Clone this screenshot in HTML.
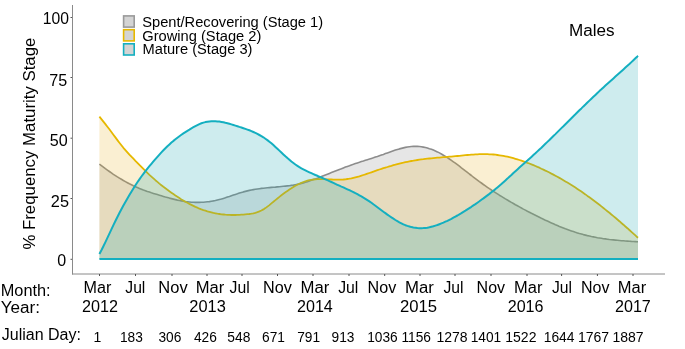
<!DOCTYPE html>
<html><head><meta charset="utf-8"><style>
html,body{margin:0;padding:0;background:#fff;}
body{width:685px;height:349px;position:relative;overflow:hidden;font-family:"Liberation Sans", sans-serif;}
</style></head><body>
<svg width="685" height="349" viewBox="0 0 685 349" style="position:absolute;left:0;top:0;will-change:transform">
<path d="M99.4,164.2 L101.4,165.7 L103.4,167.2 L105.4,168.7 L107.4,170.1 L109.4,171.5 L111.4,172.9 L113.4,174.3 L115.4,175.6 L117.4,176.9 L119.4,178.1 L121.4,179.3 L123.4,180.5 L125.4,181.6 L127.4,182.7 L129.4,183.8 L131.4,184.8 L133.4,185.8 L135.4,186.7 L137.4,187.6 L139.4,188.4 L141.4,189.2 L143.4,190.0 L145.4,190.7 L147.4,191.5 L149.4,192.1 L151.4,192.8 L153.4,193.4 L155.4,194.0 L157.4,194.6 L159.4,195.2 L161.4,195.8 L163.4,196.4 L165.4,197.0 L167.4,197.5 L169.4,198.1 L171.4,198.6 L173.4,199.1 L175.4,199.6 L177.4,200.1 L179.4,200.5 L181.4,200.9 L183.4,201.3 L185.4,201.6 L187.4,201.8 L189.4,202.0 L191.4,202.2 L193.4,202.3 L195.4,202.4 L197.4,202.4 L199.4,202.4 L201.4,202.3 L203.4,202.2 L205.4,202.0 L207.4,201.8 L209.4,201.6 L211.4,201.2 L213.4,200.9 L215.4,200.5 L217.4,200.0 L219.4,199.5 L221.4,199.0 L223.4,198.4 L225.4,197.8 L227.4,197.1 L229.4,196.5 L231.4,195.8 L233.4,195.1 L235.4,194.4 L237.4,193.8 L239.4,193.1 L241.4,192.5 L243.4,191.9 L245.4,191.4 L247.4,190.9 L249.4,190.4 L251.4,190.0 L253.4,189.6 L255.4,189.3 L257.4,189.0 L259.4,188.7 L261.4,188.4 L263.4,188.2 L265.4,188.0 L267.4,187.8 L269.4,187.6 L271.4,187.4 L273.4,187.2 L275.4,187.1 L277.4,186.9 L279.4,186.7 L281.4,186.5 L283.4,186.3 L285.4,186.1 L287.4,185.9 L289.4,185.7 L291.4,185.4 L293.4,185.1 L295.4,184.7 L297.4,184.3 L299.4,183.9 L301.4,183.4 L303.4,182.9 L305.4,182.3 L307.4,181.7 L309.4,181.0 L311.4,180.3 L313.4,179.6 L315.4,178.9 L317.4,178.2 L319.4,177.4 L321.4,176.6 L323.4,175.8 L325.4,175.0 L327.4,174.2 L329.4,173.4 L331.4,172.6 L333.4,171.8 L335.4,171.0 L337.4,170.2 L339.4,169.4 L341.4,168.7 L343.4,167.9 L345.4,167.1 L347.4,166.4 L349.4,165.7 L351.4,164.9 L353.4,164.3 L355.4,163.6 L357.4,162.9 L359.4,162.3 L361.4,161.6 L363.4,161.0 L365.4,160.3 L367.4,159.7 L369.4,159.1 L371.4,158.4 L373.4,157.8 L375.4,157.1 L377.4,156.5 L379.4,155.8 L381.4,155.1 L383.4,154.4 L385.4,153.6 L387.4,152.9 L389.4,152.2 L391.4,151.5 L393.4,150.8 L395.4,150.1 L397.4,149.5 L399.4,148.9 L401.4,148.4 L403.4,147.9 L405.4,147.4 L407.4,147.0 L409.4,146.7 L411.4,146.5 L413.4,146.4 L415.4,146.3 L417.4,146.4 L419.4,146.5 L421.4,146.7 L423.4,147.1 L425.4,147.5 L427.4,148.0 L429.4,148.7 L431.4,149.3 L433.4,150.1 L435.4,151.0 L437.4,151.9 L439.4,152.9 L441.4,154.0 L443.4,155.2 L445.4,156.4 L447.4,157.6 L449.4,159.0 L451.4,160.4 L453.4,161.8 L455.4,163.2 L457.4,164.7 L459.4,166.2 L461.4,167.8 L463.4,169.3 L465.4,170.9 L467.4,172.4 L469.4,174.0 L471.4,175.5 L473.4,177.1 L475.4,178.6 L477.4,180.1 L479.4,181.6 L481.4,183.0 L483.4,184.5 L485.4,185.9 L487.4,187.3 L489.4,188.7 L491.4,190.0 L493.4,191.3 L495.4,192.6 L497.4,193.9 L499.4,195.2 L501.4,196.4 L503.4,197.6 L505.4,198.9 L507.4,200.0 L509.4,201.2 L511.4,202.4 L513.4,203.5 L515.4,204.7 L517.4,205.8 L519.4,206.9 L521.4,208.0 L523.4,209.1 L525.4,210.1 L527.4,211.2 L529.4,212.2 L531.4,213.3 L533.4,214.3 L535.4,215.3 L537.4,216.3 L539.4,217.3 L541.4,218.3 L543.4,219.2 L545.4,220.2 L547.4,221.1 L549.4,222.0 L551.4,222.9 L553.4,223.8 L555.4,224.7 L557.4,225.5 L559.4,226.4 L561.4,227.2 L563.4,228.0 L565.4,228.8 L567.4,229.5 L569.4,230.2 L571.4,230.9 L573.4,231.6 L575.4,232.3 L577.4,232.9 L579.4,233.5 L581.4,234.0 L583.4,234.6 L585.4,235.1 L587.4,235.6 L589.4,236.0 L591.4,236.5 L593.4,236.9 L595.4,237.3 L597.4,237.7 L599.4,238.0 L601.4,238.3 L603.4,238.7 L605.4,238.9 L607.4,239.2 L609.4,239.5 L611.4,239.7 L613.4,239.9 L615.4,240.1 L617.4,240.3 L619.4,240.5 L621.4,240.7 L623.4,240.8 L625.4,241.0 L627.4,241.1 L629.4,241.2 L631.4,241.4 L633.4,241.5 L635.4,241.6 L637.4,241.7 L638.0,241.7 L638.0,259.0 L99.4,259.0 Z" fill="rgb(126,128,130)" fill-opacity="0.197"/>
<path d="M99.4,164.2 L101.4,165.7 L103.4,167.2 L105.4,168.7 L107.4,170.1 L109.4,171.5 L111.4,172.9 L113.4,174.3 L115.4,175.6 L117.4,176.9 L119.4,178.1 L121.4,179.3 L123.4,180.5 L125.4,181.6 L127.4,182.7 L129.4,183.8 L131.4,184.8 L133.4,185.8 L135.4,186.7 L137.4,187.6 L139.4,188.4 L141.4,189.2 L143.4,190.0 L145.4,190.7 L147.4,191.5 L149.4,192.1 L151.4,192.8 L153.4,193.4 L155.4,194.0 L157.4,194.6 L159.4,195.2 L161.4,195.8 L163.4,196.4 L165.4,197.0 L167.4,197.5 L169.4,198.1 L171.4,198.6 L173.4,199.1 L175.4,199.6 L177.4,200.1 L179.4,200.5 L181.4,200.9 L183.4,201.3 L185.4,201.6 L187.4,201.8 L189.4,202.0 L191.4,202.2 L193.4,202.3 L195.4,202.4 L197.4,202.4 L199.4,202.4 L201.4,202.3 L203.4,202.2 L205.4,202.0 L207.4,201.8 L209.4,201.6 L211.4,201.2 L213.4,200.9 L215.4,200.5 L217.4,200.0 L219.4,199.5 L221.4,199.0 L223.4,198.4 L225.4,197.8 L227.4,197.1 L229.4,196.5 L231.4,195.8 L233.4,195.1 L235.4,194.4 L237.4,193.8 L239.4,193.1 L241.4,192.5 L243.4,191.9 L245.4,191.4 L247.4,190.9 L249.4,190.4 L251.4,190.0 L253.4,189.6 L255.4,189.3 L257.4,189.0 L259.4,188.7 L261.4,188.4 L263.4,188.2 L265.4,188.0 L267.4,187.8 L269.4,187.6 L271.4,187.4 L273.4,187.2 L275.4,187.1 L277.4,186.9 L279.4,186.7 L281.4,186.5 L283.4,186.3 L285.4,186.1 L287.4,185.9 L289.4,185.7 L291.4,185.4 L293.4,185.1 L295.4,184.7 L297.4,184.3 L299.4,183.9 L301.4,183.4 L303.4,182.9 L305.4,182.3 L307.4,181.7 L309.4,181.0 L311.4,180.3 L313.4,179.6 L315.4,178.9 L317.4,178.2 L319.4,177.4 L321.4,176.6 L323.4,175.8 L325.4,175.0 L327.4,174.2 L329.4,173.4 L331.4,172.6 L333.4,171.8 L335.4,171.0 L337.4,170.2 L339.4,169.4 L341.4,168.7 L343.4,167.9 L345.4,167.1 L347.4,166.4 L349.4,165.7 L351.4,164.9 L353.4,164.3 L355.4,163.6 L357.4,162.9 L359.4,162.3 L361.4,161.6 L363.4,161.0 L365.4,160.3 L367.4,159.7 L369.4,159.1 L371.4,158.4 L373.4,157.8 L375.4,157.1 L377.4,156.5 L379.4,155.8 L381.4,155.1 L383.4,154.4 L385.4,153.6 L387.4,152.9 L389.4,152.2 L391.4,151.5 L393.4,150.8 L395.4,150.1 L397.4,149.5 L399.4,148.9 L401.4,148.4 L403.4,147.9 L405.4,147.4 L407.4,147.0 L409.4,146.7 L411.4,146.5 L413.4,146.4 L415.4,146.3 L417.4,146.4 L419.4,146.5 L421.4,146.7 L423.4,147.1 L425.4,147.5 L427.4,148.0 L429.4,148.7 L431.4,149.3 L433.4,150.1 L435.4,151.0 L437.4,151.9 L439.4,152.9 L441.4,154.0 L443.4,155.2 L445.4,156.4 L447.4,157.6 L449.4,159.0 L451.4,160.4 L453.4,161.8 L455.4,163.2 L457.4,164.7 L459.4,166.2 L461.4,167.8 L463.4,169.3 L465.4,170.9 L467.4,172.4 L469.4,174.0 L471.4,175.5 L473.4,177.1 L475.4,178.6 L477.4,180.1 L479.4,181.6 L481.4,183.0 L483.4,184.5 L485.4,185.9 L487.4,187.3 L489.4,188.7 L491.4,190.0 L493.4,191.3 L495.4,192.6 L497.4,193.9 L499.4,195.2 L501.4,196.4 L503.4,197.6 L505.4,198.9 L507.4,200.0 L509.4,201.2 L511.4,202.4 L513.4,203.5 L515.4,204.7 L517.4,205.8 L519.4,206.9 L521.4,208.0 L523.4,209.1 L525.4,210.1 L527.4,211.2 L529.4,212.2 L531.4,213.3 L533.4,214.3 L535.4,215.3 L537.4,216.3 L539.4,217.3 L541.4,218.3 L543.4,219.2 L545.4,220.2 L547.4,221.1 L549.4,222.0 L551.4,222.9 L553.4,223.8 L555.4,224.7 L557.4,225.5 L559.4,226.4 L561.4,227.2 L563.4,228.0 L565.4,228.8 L567.4,229.5 L569.4,230.2 L571.4,230.9 L573.4,231.6 L575.4,232.3 L577.4,232.9 L579.4,233.5 L581.4,234.0 L583.4,234.6 L585.4,235.1 L587.4,235.6 L589.4,236.0 L591.4,236.5 L593.4,236.9 L595.4,237.3 L597.4,237.7 L599.4,238.0 L601.4,238.3 L603.4,238.7 L605.4,238.9 L607.4,239.2 L609.4,239.5 L611.4,239.7 L613.4,239.9 L615.4,240.1 L617.4,240.3 L619.4,240.5 L621.4,240.7 L623.4,240.8 L625.4,241.0 L627.4,241.1 L629.4,241.2 L631.4,241.4 L633.4,241.5 L635.4,241.6 L637.4,241.7 L638.0,241.7" fill="none" stroke="#8c8c8c" stroke-width="1.6" stroke-linejoin="round"/>
<path d="M99.4,116.7 L101.4,119.1 L103.4,121.6 L105.4,124.1 L107.4,126.7 L109.4,129.3 L111.4,132.0 L113.4,134.7 L115.4,137.4 L117.4,140.1 L119.4,142.7 L121.4,145.3 L123.4,147.8 L125.4,150.1 L127.4,152.4 L129.4,154.6 L131.4,156.7 L133.4,158.7 L135.4,160.8 L137.4,162.8 L139.4,164.9 L141.4,166.9 L143.4,168.9 L145.4,170.9 L147.4,172.9 L149.4,174.8 L151.4,176.6 L153.4,178.4 L155.4,180.2 L157.4,181.9 L159.4,183.6 L161.4,185.2 L163.4,186.8 L165.4,188.3 L167.4,189.8 L169.4,191.3 L171.4,192.7 L173.4,194.1 L175.4,195.5 L177.4,196.8 L179.4,198.1 L181.4,199.4 L183.4,200.6 L185.4,201.7 L187.4,202.8 L189.4,203.9 L191.4,204.9 L193.4,205.9 L195.4,206.9 L197.4,207.7 L199.4,208.6 L201.4,209.4 L203.4,210.1 L205.4,210.7 L207.4,211.4 L209.4,211.9 L211.4,212.4 L213.4,212.9 L215.4,213.3 L217.4,213.7 L219.4,214.0 L221.4,214.3 L223.4,214.5 L225.4,214.7 L227.4,214.8 L229.4,214.9 L231.4,215.0 L233.4,215.0 L235.4,215.0 L237.4,214.9 L239.4,214.9 L241.4,214.7 L243.4,214.6 L245.4,214.4 L247.4,214.2 L249.4,214.0 L251.4,213.7 L253.4,213.3 L255.4,212.8 L257.4,212.2 L259.4,211.4 L261.4,210.5 L263.4,209.4 L265.4,208.1 L267.4,206.6 L269.4,205.1 L271.4,203.4 L273.4,201.8 L275.4,200.1 L277.4,198.5 L279.4,196.9 L281.4,195.3 L283.4,193.8 L285.4,192.3 L287.4,190.9 L289.4,189.5 L291.4,188.2 L293.4,186.9 L295.4,185.8 L297.4,184.7 L299.4,183.7 L301.4,182.8 L303.4,182.0 L305.4,181.3 L307.4,180.7 L309.4,180.2 L311.4,179.8 L313.4,179.5 L315.4,179.3 L317.4,179.2 L319.4,179.2 L321.4,179.1 L323.4,179.2 L325.4,179.2 L327.4,179.3 L329.4,179.4 L331.4,179.5 L333.4,179.6 L335.4,179.6 L337.4,179.7 L339.4,179.7 L341.4,179.6 L343.4,179.5 L345.4,179.3 L347.4,179.0 L349.4,178.7 L351.4,178.3 L353.4,177.8 L355.4,177.3 L357.4,176.8 L359.4,176.3 L361.4,175.7 L363.4,175.0 L365.4,174.4 L367.4,173.7 L369.4,173.0 L371.4,172.3 L373.4,171.6 L375.4,170.9 L377.4,170.2 L379.4,169.5 L381.4,168.9 L383.4,168.2 L385.4,167.6 L387.4,167.0 L389.4,166.3 L391.4,165.8 L393.4,165.2 L395.4,164.7 L397.4,164.1 L399.4,163.6 L401.4,163.1 L403.4,162.7 L405.4,162.2 L407.4,161.8 L409.4,161.4 L411.4,161.0 L413.4,160.7 L415.4,160.3 L417.4,160.0 L419.4,159.7 L421.4,159.4 L423.4,159.2 L425.4,158.9 L427.4,158.7 L429.4,158.5 L431.4,158.3 L433.4,158.1 L435.4,157.9 L437.4,157.7 L439.4,157.6 L441.4,157.4 L443.4,157.2 L445.4,157.1 L447.4,156.9 L449.4,156.7 L451.4,156.6 L453.4,156.4 L455.4,156.2 L457.4,156.0 L459.4,155.8 L461.4,155.6 L463.4,155.4 L465.4,155.2 L467.4,155.0 L469.4,154.9 L471.4,154.7 L473.4,154.6 L475.4,154.4 L477.4,154.3 L479.4,154.2 L481.4,154.2 L483.4,154.1 L485.4,154.1 L487.4,154.2 L489.4,154.3 L491.4,154.4 L493.4,154.5 L495.4,154.7 L497.4,155.0 L499.4,155.3 L501.4,155.6 L503.4,155.9 L505.4,156.3 L507.4,156.7 L509.4,157.2 L511.4,157.7 L513.4,158.2 L515.4,158.8 L517.4,159.4 L519.4,160.0 L521.4,160.6 L523.4,161.3 L525.4,162.0 L527.4,162.8 L529.4,163.5 L531.4,164.3 L533.4,165.1 L535.4,166.0 L537.4,166.9 L539.4,167.7 L541.4,168.7 L543.4,169.6 L545.4,170.6 L547.4,171.5 L549.4,172.5 L551.4,173.6 L553.4,174.6 L555.4,175.7 L557.4,176.8 L559.4,177.9 L561.4,179.0 L563.4,180.2 L565.4,181.4 L567.4,182.6 L569.4,183.8 L571.4,185.0 L573.4,186.3 L575.4,187.6 L577.4,188.9 L579.4,190.3 L581.4,191.6 L583.4,193.0 L585.4,194.4 L587.4,195.9 L589.4,197.3 L591.4,198.8 L593.4,200.3 L595.4,201.8 L597.4,203.3 L599.4,204.8 L601.4,206.4 L603.4,208.0 L605.4,209.6 L607.4,211.2 L609.4,212.8 L611.4,214.5 L613.4,216.1 L615.4,217.8 L617.4,219.5 L619.4,221.2 L621.4,223.0 L623.4,224.7 L625.4,226.5 L627.4,228.2 L629.4,230.0 L631.4,231.8 L633.4,233.6 L635.4,235.4 L637.4,237.3 L638.0,237.8 L638.0,259.0 L99.4,259.0 Z" fill="rgb(231,172,25)" fill-opacity="0.198"/>
<path d="M99.4,116.7 L101.4,119.1 L103.4,121.6 L105.4,124.1 L107.4,126.7 L109.4,129.3 L111.4,132.0 L113.4,134.7 L115.4,137.4 L117.4,140.1 L119.4,142.7 L121.4,145.3 L123.4,147.8 L125.4,150.1 L127.4,152.4 L129.4,154.6 L131.4,156.7 L133.4,158.7 L135.4,160.8 L137.4,162.8 L139.4,164.9 L141.4,166.9 L143.4,168.9 L145.4,170.9 L147.4,172.9 L149.4,174.8 L151.4,176.6 L153.4,178.4 L155.4,180.2 L157.4,181.9 L159.4,183.6 L161.4,185.2 L163.4,186.8 L165.4,188.3 L167.4,189.8 L169.4,191.3 L171.4,192.7 L173.4,194.1 L175.4,195.5 L177.4,196.8 L179.4,198.1 L181.4,199.4 L183.4,200.6 L185.4,201.7 L187.4,202.8 L189.4,203.9 L191.4,204.9 L193.4,205.9 L195.4,206.9 L197.4,207.7 L199.4,208.6 L201.4,209.4 L203.4,210.1 L205.4,210.7 L207.4,211.4 L209.4,211.9 L211.4,212.4 L213.4,212.9 L215.4,213.3 L217.4,213.7 L219.4,214.0 L221.4,214.3 L223.4,214.5 L225.4,214.7 L227.4,214.8 L229.4,214.9 L231.4,215.0 L233.4,215.0 L235.4,215.0 L237.4,214.9 L239.4,214.9 L241.4,214.7 L243.4,214.6 L245.4,214.4 L247.4,214.2 L249.4,214.0 L251.4,213.7 L253.4,213.3 L255.4,212.8 L257.4,212.2 L259.4,211.4 L261.4,210.5 L263.4,209.4 L265.4,208.1 L267.4,206.6 L269.4,205.1 L271.4,203.4 L273.4,201.8 L275.4,200.1 L277.4,198.5 L279.4,196.9 L281.4,195.3 L283.4,193.8 L285.4,192.3 L287.4,190.9 L289.4,189.5 L291.4,188.2 L293.4,186.9 L295.4,185.8 L297.4,184.7 L299.4,183.7 L301.4,182.8 L303.4,182.0 L305.4,181.3 L307.4,180.7 L309.4,180.2 L311.4,179.8 L313.4,179.5 L315.4,179.3 L317.4,179.2 L319.4,179.2 L321.4,179.1 L323.4,179.2 L325.4,179.2 L327.4,179.3 L329.4,179.4 L331.4,179.5 L333.4,179.6 L335.4,179.6 L337.4,179.7 L339.4,179.7 L341.4,179.6 L343.4,179.5 L345.4,179.3 L347.4,179.0 L349.4,178.7 L351.4,178.3 L353.4,177.8 L355.4,177.3 L357.4,176.8 L359.4,176.3 L361.4,175.7 L363.4,175.0 L365.4,174.4 L367.4,173.7 L369.4,173.0 L371.4,172.3 L373.4,171.6 L375.4,170.9 L377.4,170.2 L379.4,169.5 L381.4,168.9 L383.4,168.2 L385.4,167.6 L387.4,167.0 L389.4,166.3 L391.4,165.8 L393.4,165.2 L395.4,164.7 L397.4,164.1 L399.4,163.6 L401.4,163.1 L403.4,162.7 L405.4,162.2 L407.4,161.8 L409.4,161.4 L411.4,161.0 L413.4,160.7 L415.4,160.3 L417.4,160.0 L419.4,159.7 L421.4,159.4 L423.4,159.2 L425.4,158.9 L427.4,158.7 L429.4,158.5 L431.4,158.3 L433.4,158.1 L435.4,157.9 L437.4,157.7 L439.4,157.6 L441.4,157.4 L443.4,157.2 L445.4,157.1 L447.4,156.9 L449.4,156.7 L451.4,156.6 L453.4,156.4 L455.4,156.2 L457.4,156.0 L459.4,155.8 L461.4,155.6 L463.4,155.4 L465.4,155.2 L467.4,155.0 L469.4,154.9 L471.4,154.7 L473.4,154.6 L475.4,154.4 L477.4,154.3 L479.4,154.2 L481.4,154.2 L483.4,154.1 L485.4,154.1 L487.4,154.2 L489.4,154.3 L491.4,154.4 L493.4,154.5 L495.4,154.7 L497.4,155.0 L499.4,155.3 L501.4,155.6 L503.4,155.9 L505.4,156.3 L507.4,156.7 L509.4,157.2 L511.4,157.7 L513.4,158.2 L515.4,158.8 L517.4,159.4 L519.4,160.0 L521.4,160.6 L523.4,161.3 L525.4,162.0 L527.4,162.8 L529.4,163.5 L531.4,164.3 L533.4,165.1 L535.4,166.0 L537.4,166.9 L539.4,167.7 L541.4,168.7 L543.4,169.6 L545.4,170.6 L547.4,171.5 L549.4,172.5 L551.4,173.6 L553.4,174.6 L555.4,175.7 L557.4,176.8 L559.4,177.9 L561.4,179.0 L563.4,180.2 L565.4,181.4 L567.4,182.6 L569.4,183.8 L571.4,185.0 L573.4,186.3 L575.4,187.6 L577.4,188.9 L579.4,190.3 L581.4,191.6 L583.4,193.0 L585.4,194.4 L587.4,195.9 L589.4,197.3 L591.4,198.8 L593.4,200.3 L595.4,201.8 L597.4,203.3 L599.4,204.8 L601.4,206.4 L603.4,208.0 L605.4,209.6 L607.4,211.2 L609.4,212.8 L611.4,214.5 L613.4,216.1 L615.4,217.8 L617.4,219.5 L619.4,221.2 L621.4,223.0 L623.4,224.7 L625.4,226.5 L627.4,228.2 L629.4,230.0 L631.4,231.8 L633.4,233.6 L635.4,235.4 L637.4,237.3 L638.0,237.8" fill="none" stroke="#e6b800" stroke-width="1.8" stroke-linejoin="round"/>
<path d="M99.4,254.0 L101.4,250.3 L103.4,246.3 L105.4,242.1 L107.4,237.9 L109.4,233.6 L111.4,229.3 L113.4,225.1 L115.4,221.0 L117.4,217.0 L119.4,213.0 L121.4,209.2 L123.4,205.5 L125.4,201.9 L127.4,198.4 L129.4,195.0 L131.4,191.7 L133.4,188.5 L135.4,185.3 L137.4,182.3 L139.4,179.4 L141.4,176.5 L143.4,173.8 L145.4,171.2 L147.4,168.6 L149.4,166.2 L151.4,163.8 L153.4,161.4 L155.4,159.1 L157.4,156.8 L159.4,154.6 L161.4,152.4 L163.4,150.3 L165.4,148.2 L167.4,146.2 L169.4,144.4 L171.4,142.6 L173.4,140.9 L175.4,139.3 L177.4,137.7 L179.4,136.2 L181.4,134.8 L183.4,133.4 L185.4,132.1 L187.4,130.8 L189.4,129.6 L191.4,128.3 L193.4,127.2 L195.4,126.1 L197.4,125.1 L199.4,124.1 L201.4,123.3 L203.4,122.6 L205.4,122.1 L207.4,121.7 L209.4,121.4 L211.4,121.3 L213.4,121.2 L215.4,121.3 L217.4,121.4 L219.4,121.6 L221.4,121.9 L223.4,122.3 L225.4,122.8 L227.4,123.2 L229.4,123.8 L231.4,124.4 L233.4,125.0 L235.4,125.6 L237.4,126.2 L239.4,126.9 L241.4,127.5 L243.4,128.2 L245.4,128.9 L247.4,129.6 L249.4,130.3 L251.4,131.1 L253.4,132.0 L255.4,132.9 L257.4,133.9 L259.4,135.0 L261.4,136.1 L263.4,137.3 L265.4,138.7 L267.4,140.1 L269.4,141.7 L271.4,143.3 L273.4,145.1 L275.4,146.9 L277.4,148.7 L279.4,150.6 L281.4,152.5 L283.4,154.4 L285.4,156.3 L287.4,158.1 L289.4,159.8 L291.4,161.5 L293.4,163.0 L295.4,164.5 L297.4,165.8 L299.4,167.1 L301.4,168.3 L303.4,169.4 L305.4,170.4 L307.4,171.4 L309.4,172.3 L311.4,173.2 L313.4,174.1 L315.4,175.0 L317.4,175.8 L319.4,176.7 L321.4,177.5 L323.4,178.4 L325.4,179.3 L327.4,180.2 L329.4,181.1 L331.4,182.0 L333.4,182.9 L335.4,183.9 L337.4,184.8 L339.4,185.7 L341.4,186.6 L343.4,187.4 L345.4,188.4 L347.4,189.3 L349.4,190.2 L351.4,191.2 L353.4,192.1 L355.4,193.2 L357.4,194.2 L359.4,195.3 L361.4,196.4 L363.4,197.6 L365.4,198.8 L367.4,200.1 L369.4,201.4 L371.4,202.8 L373.4,204.3 L375.4,205.7 L377.4,207.2 L379.4,208.7 L381.4,210.2 L383.4,211.7 L385.4,213.1 L387.4,214.6 L389.4,216.0 L391.4,217.4 L393.4,218.7 L395.4,220.0 L397.4,221.2 L399.4,222.3 L401.4,223.3 L403.4,224.3 L405.4,225.2 L407.4,225.9 L409.4,226.5 L411.4,227.1 L413.4,227.5 L415.4,227.8 L417.4,228.1 L419.4,228.2 L421.4,228.2 L423.4,228.1 L425.4,227.9 L427.4,227.7 L429.4,227.3 L431.4,226.8 L433.4,226.3 L435.4,225.6 L437.4,225.0 L439.4,224.2 L441.4,223.4 L443.4,222.6 L445.4,221.7 L447.4,220.8 L449.4,219.8 L451.4,218.8 L453.4,217.7 L455.4,216.6 L457.4,215.5 L459.4,214.3 L461.4,213.2 L463.4,211.9 L465.4,210.7 L467.4,209.4 L469.4,208.1 L471.4,206.8 L473.4,205.4 L475.4,204.1 L477.4,202.7 L479.4,201.3 L481.4,199.8 L483.4,198.4 L485.4,196.9 L487.4,195.4 L489.4,193.9 L491.4,192.3 L493.4,190.7 L495.4,189.1 L497.4,187.4 L499.4,185.7 L501.4,184.0 L503.4,182.2 L505.4,180.4 L507.4,178.6 L509.4,176.7 L511.4,174.9 L513.4,173.0 L515.4,171.2 L517.4,169.4 L519.4,167.6 L521.4,165.8 L523.4,164.0 L525.4,162.2 L527.4,160.5 L529.4,158.7 L531.4,156.9 L533.4,155.1 L535.4,153.3 L537.4,151.4 L539.4,149.5 L541.4,147.7 L543.4,145.7 L545.4,143.8 L547.4,141.9 L549.4,140.0 L551.4,138.0 L553.4,136.0 L555.4,134.1 L557.4,132.1 L559.4,130.1 L561.4,128.1 L563.4,126.2 L565.4,124.2 L567.4,122.2 L569.4,120.2 L571.4,118.2 L573.4,116.2 L575.4,114.3 L577.4,112.3 L579.4,110.3 L581.4,108.4 L583.4,106.4 L585.4,104.5 L587.4,102.5 L589.4,100.6 L591.4,98.7 L593.4,96.8 L595.4,94.9 L597.4,93.0 L599.4,91.1 L601.4,89.3 L603.4,87.4 L605.4,85.6 L607.4,83.8 L609.4,82.0 L611.4,80.2 L613.4,78.4 L615.4,76.6 L617.4,74.8 L619.4,73.0 L621.4,71.2 L623.4,69.4 L625.4,67.6 L627.4,65.8 L629.4,64.0 L631.4,62.1 L633.4,60.2 L635.4,58.3 L637.4,56.4 L638.0,55.8 L638.0,259.0 L99.4,259.0 Z" fill="rgb(34,168,179)" fill-opacity="0.219"/>
<path d="M99.4,254.0 L101.4,250.3 L103.4,246.3 L105.4,242.1 L107.4,237.9 L109.4,233.6 L111.4,229.3 L113.4,225.1 L115.4,221.0 L117.4,217.0 L119.4,213.0 L121.4,209.2 L123.4,205.5 L125.4,201.9 L127.4,198.4 L129.4,195.0 L131.4,191.7 L133.4,188.5 L135.4,185.3 L137.4,182.3 L139.4,179.4 L141.4,176.5 L143.4,173.8 L145.4,171.2 L147.4,168.6 L149.4,166.2 L151.4,163.8 L153.4,161.4 L155.4,159.1 L157.4,156.8 L159.4,154.6 L161.4,152.4 L163.4,150.3 L165.4,148.2 L167.4,146.2 L169.4,144.4 L171.4,142.6 L173.4,140.9 L175.4,139.3 L177.4,137.7 L179.4,136.2 L181.4,134.8 L183.4,133.4 L185.4,132.1 L187.4,130.8 L189.4,129.6 L191.4,128.3 L193.4,127.2 L195.4,126.1 L197.4,125.1 L199.4,124.1 L201.4,123.3 L203.4,122.6 L205.4,122.1 L207.4,121.7 L209.4,121.4 L211.4,121.3 L213.4,121.2 L215.4,121.3 L217.4,121.4 L219.4,121.6 L221.4,121.9 L223.4,122.3 L225.4,122.8 L227.4,123.2 L229.4,123.8 L231.4,124.4 L233.4,125.0 L235.4,125.6 L237.4,126.2 L239.4,126.9 L241.4,127.5 L243.4,128.2 L245.4,128.9 L247.4,129.6 L249.4,130.3 L251.4,131.1 L253.4,132.0 L255.4,132.9 L257.4,133.9 L259.4,135.0 L261.4,136.1 L263.4,137.3 L265.4,138.7 L267.4,140.1 L269.4,141.7 L271.4,143.3 L273.4,145.1 L275.4,146.9 L277.4,148.7 L279.4,150.6 L281.4,152.5 L283.4,154.4 L285.4,156.3 L287.4,158.1 L289.4,159.8 L291.4,161.5 L293.4,163.0 L295.4,164.5 L297.4,165.8 L299.4,167.1 L301.4,168.3 L303.4,169.4 L305.4,170.4 L307.4,171.4 L309.4,172.3 L311.4,173.2 L313.4,174.1 L315.4,175.0 L317.4,175.8 L319.4,176.7 L321.4,177.5 L323.4,178.4 L325.4,179.3 L327.4,180.2 L329.4,181.1 L331.4,182.0 L333.4,182.9 L335.4,183.9 L337.4,184.8 L339.4,185.7 L341.4,186.6 L343.4,187.4 L345.4,188.4 L347.4,189.3 L349.4,190.2 L351.4,191.2 L353.4,192.1 L355.4,193.2 L357.4,194.2 L359.4,195.3 L361.4,196.4 L363.4,197.6 L365.4,198.8 L367.4,200.1 L369.4,201.4 L371.4,202.8 L373.4,204.3 L375.4,205.7 L377.4,207.2 L379.4,208.7 L381.4,210.2 L383.4,211.7 L385.4,213.1 L387.4,214.6 L389.4,216.0 L391.4,217.4 L393.4,218.7 L395.4,220.0 L397.4,221.2 L399.4,222.3 L401.4,223.3 L403.4,224.3 L405.4,225.2 L407.4,225.9 L409.4,226.5 L411.4,227.1 L413.4,227.5 L415.4,227.8 L417.4,228.1 L419.4,228.2 L421.4,228.2 L423.4,228.1 L425.4,227.9 L427.4,227.7 L429.4,227.3 L431.4,226.8 L433.4,226.3 L435.4,225.6 L437.4,225.0 L439.4,224.2 L441.4,223.4 L443.4,222.6 L445.4,221.7 L447.4,220.8 L449.4,219.8 L451.4,218.8 L453.4,217.7 L455.4,216.6 L457.4,215.5 L459.4,214.3 L461.4,213.2 L463.4,211.9 L465.4,210.7 L467.4,209.4 L469.4,208.1 L471.4,206.8 L473.4,205.4 L475.4,204.1 L477.4,202.7 L479.4,201.3 L481.4,199.8 L483.4,198.4 L485.4,196.9 L487.4,195.4 L489.4,193.9 L491.4,192.3 L493.4,190.7 L495.4,189.1 L497.4,187.4 L499.4,185.7 L501.4,184.0 L503.4,182.2 L505.4,180.4 L507.4,178.6 L509.4,176.7 L511.4,174.9 L513.4,173.0 L515.4,171.2 L517.4,169.4 L519.4,167.6 L521.4,165.8 L523.4,164.0 L525.4,162.2 L527.4,160.5 L529.4,158.7 L531.4,156.9 L533.4,155.1 L535.4,153.3 L537.4,151.4 L539.4,149.5 L541.4,147.7 L543.4,145.7 L545.4,143.8 L547.4,141.9 L549.4,140.0 L551.4,138.0 L553.4,136.0 L555.4,134.1 L557.4,132.1 L559.4,130.1 L561.4,128.1 L563.4,126.2 L565.4,124.2 L567.4,122.2 L569.4,120.2 L571.4,118.2 L573.4,116.2 L575.4,114.3 L577.4,112.3 L579.4,110.3 L581.4,108.4 L583.4,106.4 L585.4,104.5 L587.4,102.5 L589.4,100.6 L591.4,98.7 L593.4,96.8 L595.4,94.9 L597.4,93.0 L599.4,91.1 L601.4,89.3 L603.4,87.4 L605.4,85.6 L607.4,83.8 L609.4,82.0 L611.4,80.2 L613.4,78.4 L615.4,76.6 L617.4,74.8 L619.4,73.0 L621.4,71.2 L623.4,69.4 L625.4,67.6 L627.4,65.8 L629.4,64.0 L631.4,62.1 L633.4,60.2 L635.4,58.3 L637.4,56.4 L638.0,55.8" fill="none" stroke="#14afc0" stroke-width="2" stroke-linejoin="round"/>
<path d="M99.4,259.0 L638.0,259.0" fill="none" stroke="#14afc0" stroke-width="2"/>
<path d="M72.5,5 L72.5,274.5" stroke="#8a8a8a" stroke-width="1" fill="none"/>
<path d="M72,274 L665,274" stroke="#8a8a8a" stroke-width="1" fill="none"/>
<path d="M70.5,17.5 L72,17.5" stroke="#555" stroke-width="1" fill="none"/>
<path d="M70.5,77.5 L72,77.5" stroke="#555" stroke-width="1" fill="none"/>
<path d="M70.5,138.2 L72,138.2" stroke="#555" stroke-width="1" fill="none"/>
<path d="M70.5,198.5 L72,198.5" stroke="#555" stroke-width="1" fill="none"/>
<path d="M70.5,259.3 L72,259.3" stroke="#555" stroke-width="1" fill="none"/>
<path d="M99.5,274 L99.5,276" stroke="#555" stroke-width="1" fill="none"/>
<path d="M135.5,274 L135.5,276" stroke="#555" stroke-width="1" fill="none"/>
<path d="M172,274 L172,276" stroke="#555" stroke-width="1" fill="none"/>
<path d="M207,274 L207,276" stroke="#555" stroke-width="1" fill="none"/>
<path d="M242,274 L242,276" stroke="#555" stroke-width="1" fill="none"/>
<path d="M277.5,274 L277.5,276" stroke="#555" stroke-width="1" fill="none"/>
<path d="M313,274 L313,276" stroke="#555" stroke-width="1" fill="none"/>
<path d="M349,274 L349,276" stroke="#555" stroke-width="1" fill="none"/>
<path d="M384.7,274 L384.7,276" stroke="#555" stroke-width="1" fill="none"/>
<path d="M420,274 L420,276" stroke="#555" stroke-width="1" fill="none"/>
<path d="M455,274 L455,276" stroke="#555" stroke-width="1" fill="none"/>
<path d="M491,274 L491,276" stroke="#555" stroke-width="1" fill="none"/>
<path d="M527,274 L527,276" stroke="#555" stroke-width="1" fill="none"/>
<path d="M561.6,274 L561.6,276" stroke="#555" stroke-width="1" fill="none"/>
<path d="M597.4,274 L597.4,276" stroke="#555" stroke-width="1" fill="none"/>
<path d="M633,274 L633,276" stroke="#555" stroke-width="1" fill="none"/>
<g font-family='"Liberation Sans", sans-serif' fill="#000">
<text x="0.73" y="295.9" font-size="16" textLength="49.91" lengthAdjust="spacingAndGlyphs">Month:</text>
<text x="0.68" y="313.0" font-size="16" textLength="39.32" lengthAdjust="spacingAndGlyphs">Year:</text>
<text x="1.80" y="339.7" font-size="16">Julian Day:</text>
<text x="83.49" y="293.2" font-size="16" textLength="27.77" lengthAdjust="spacingAndGlyphs">Mar</text>
<text x="125.30" y="293.2" font-size="16" textLength="20.04" lengthAdjust="spacingAndGlyphs">Jul</text>
<text x="158.37" y="293.2" font-size="16" textLength="29.30" lengthAdjust="spacingAndGlyphs">Nov</text>
<text x="195.77" y="293.2" font-size="16" textLength="28.52" lengthAdjust="spacingAndGlyphs">Mar</text>
<text x="229.50" y="293.2" font-size="16" textLength="20.15" lengthAdjust="spacingAndGlyphs">Jul</text>
<text x="262.99" y="293.2" font-size="16" textLength="28.77" lengthAdjust="spacingAndGlyphs">Nov</text>
<text x="300.45" y="293.2" font-size="16" textLength="28.83" lengthAdjust="spacingAndGlyphs">Mar</text>
<text x="338.20" y="293.2" font-size="16" textLength="20.15" lengthAdjust="spacingAndGlyphs">Jul</text>
<text x="367.59" y="293.2" font-size="16" textLength="28.66" lengthAdjust="spacingAndGlyphs">Nov</text>
<text x="404.95" y="293.2" font-size="16" textLength="28.83" lengthAdjust="spacingAndGlyphs">Mar</text>
<text x="443.50" y="293.2" font-size="16" textLength="20.04" lengthAdjust="spacingAndGlyphs">Jul</text>
<text x="476.60" y="293.2" font-size="16">Nov</text>
<text x="514.07" y="293.2" font-size="16" textLength="28.30" lengthAdjust="spacingAndGlyphs">Mar</text>
<text x="552.00" y="293.2" font-size="16" textLength="20.04" lengthAdjust="spacingAndGlyphs">Jul</text>
<text x="581.00" y="293.2" font-size="16">Nov</text>
<text x="617.77" y="293.2" font-size="16" textLength="28.41" lengthAdjust="spacingAndGlyphs">Mar</text>
<text x="81.99" y="311.6" font-size="16" textLength="36.01" lengthAdjust="spacingAndGlyphs">2012</text>
<text x="189.38" y="311.6" font-size="16" textLength="36.43" lengthAdjust="spacingAndGlyphs">2013</text>
<text x="296.99" y="311.6" font-size="16" textLength="35.80" lengthAdjust="spacingAndGlyphs">2014</text>
<text x="399.96" y="311.6" font-size="16" textLength="37.06" lengthAdjust="spacingAndGlyphs">2015</text>
<text x="507.69" y="311.6" font-size="16" textLength="35.80" lengthAdjust="spacingAndGlyphs">2016</text>
<text x="614.99" y="311.6" font-size="16" textLength="35.80" lengthAdjust="spacingAndGlyphs">2017</text>
<text x="93.60" y="342.0" font-size="14">1</text>
<text x="119.92" y="342.0" font-size="14" textLength="22.89" lengthAdjust="spacingAndGlyphs">183</text>
<text x="158.42" y="342.0" font-size="14" textLength="22.89" lengthAdjust="spacingAndGlyphs">306</text>
<text x="193.90" y="342.0" font-size="14" textLength="22.89" lengthAdjust="spacingAndGlyphs">426</text>
<text x="227.31" y="342.0" font-size="14" textLength="23.04" lengthAdjust="spacingAndGlyphs">548</text>
<text x="262.12" y="342.0" font-size="14" textLength="22.89" lengthAdjust="spacingAndGlyphs">671</text>
<text x="297.22" y="342.0" font-size="14" textLength="22.89" lengthAdjust="spacingAndGlyphs">791</text>
<text x="331.62" y="342.0" font-size="14" textLength="22.89" lengthAdjust="spacingAndGlyphs">913</text>
<text x="367.22" y="342.0" font-size="14" textLength="30.53" lengthAdjust="spacingAndGlyphs">1036</text>
<text x="401.42" y="342.0" font-size="14" textLength="29.51" lengthAdjust="spacingAndGlyphs">1156</text>
<text x="436.40" y="342.0" font-size="14">1278</text>
<text x="470.72" y="342.0" font-size="14" textLength="30.53" lengthAdjust="spacingAndGlyphs">1401</text>
<text x="505.30" y="342.0" font-size="14">1522</text>
<text x="543.71" y="342.0" font-size="14" textLength="30.84" lengthAdjust="spacingAndGlyphs">1644</text>
<text x="577.90" y="342.0" font-size="14">1767</text>
<text x="612.50" y="342.0" font-size="14">1887</text>
<text x="42.72" y="24.0" font-size="16" textLength="26.17" lengthAdjust="spacingAndGlyphs">100</text>
<text x="49.39" y="85.7" font-size="16" textLength="17.91" lengthAdjust="spacingAndGlyphs">75</text>
<text x="49.69" y="145.5" font-size="16" textLength="17.91" lengthAdjust="spacingAndGlyphs">50</text>
<text x="50.88" y="206.6" font-size="16" textLength="18.13" lengthAdjust="spacingAndGlyphs">25</text>
<text x="57.20" y="265.5" font-size="16">0</text>
<text x="568.93" y="35.5" font-size="16" textLength="45.60" lengthAdjust="spacingAndGlyphs">Males</text>
<text x="142.25" y="27.0" font-size="14" textLength="180.85" lengthAdjust="spacingAndGlyphs">Spent/Recovering (Stage 1)</text>
<text x="142.25" y="40.7" font-size="14" textLength="119.09" lengthAdjust="spacingAndGlyphs">Growing (Stage 2)</text>
<text x="142.55" y="54.4" font-size="14" textLength="109.96" lengthAdjust="spacingAndGlyphs">Mature (Stage 3)</text>
<text transform="translate(34.7,249.6) rotate(-90)" font-size="16" textLength="212" lengthAdjust="spacingAndGlyphs">% Frequency Maturity Stage</text>
</g>
<rect x="123.6" y="15.9" width="10.6" height="11.2" fill="#d4d4d4" stroke="#9a9a9a" stroke-width="1.6"/>
<rect x="123.6" y="29.7" width="10.6" height="11.2" fill="#d4d4d4" stroke="#e6b800" stroke-width="1.6"/>
<rect x="123.6" y="43.8" width="10.6" height="11.2" fill="#d4d4d4" stroke="#14afc0" stroke-width="1.6"/>
</svg>
</body></html>
